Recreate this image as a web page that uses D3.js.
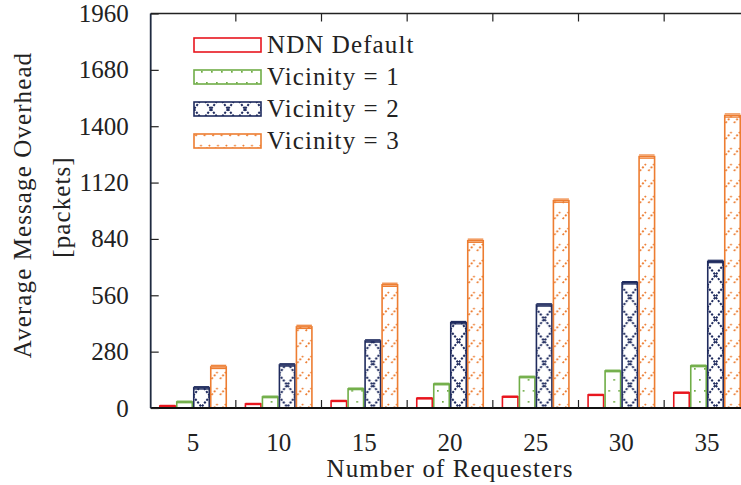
<!DOCTYPE html>
<html>
<head>
<meta charset="utf-8">
<script src="https://cdn.jsdelivr.net/npm/d3@7"></script>
<style>
  body { margin: 0; background: #fff; }
  text { font-family: "Liberation Serif", "DejaVu Serif", serif; fill: #222; }
  .words { letter-spacing: 1.1px; }
</style>
</head>
<body>
<div id="chart"></div>
<script>
// data
const requesters = ['5', '10', '15', '20', '25', '30', '35'];
const seriesNames = ['NDN Default', 'Vicinity = 1', 'Vicinity = 2', 'Vicinity = 3'];
const ndnDefault = [10, 20, 35, 48, 56, 65, 76];
const vicinity1 = [30, 55, 95, 119, 154, 184, 209];
const vicinity2 = [100, 214, 333, 424, 512, 622, 728];
const vicinity3 = [204, 403, 612, 831, 1030, 1249, 1453];
const errs = [3, 4, 6, 8];
const yTicks = [0, 280, 560, 840, 1120, 1400, 1680, 1960];

const colors = ['#e8161e', '#70ad47', '#1f2b5e', '#ed7d31'];
const allSeries = [ndnDefault, vicinity1, vicinity2, vicinity3];

const w = 741;
const h = 485;
const plotLeft = 150.7;
const plotTop = 13.5;
const plotBottom = 408;

const svg = d3.select('#chart')
  .append('svg')
  .attr('width', w)
  .attr('height', h);

// fill patterns, gnuplot style
const defs = svg.append('defs');

const p1 = defs.append('pattern').attr('id', 'pat1')
  .attr('patternUnits', 'userSpaceOnUse').attr('width', 10).attr('height', 22);
p1.append('rect').attr('width', 10).attr('height', 22).attr('fill', '#fff');
p1.append('rect').attr('x', 2).attr('y', 5).attr('width', 1.7).attr('height', 1.7).attr('fill', colors[1]);
p1.append('rect').attr('x', 7).attr('y', 16).attr('width', 1.7).attr('height', 1.7).attr('fill', colors[1]);

const p2 = defs.append('pattern').attr('id', 'pat2')
  .attr('patternUnits', 'userSpaceOnUse').attr('width', 17).attr('height', 22);
p2.append('rect').attr('width', 17).attr('height', 22).attr('fill', '#fff');
p2.append('path').attr('d', 'M0,0 L17,22 M17,0 L0,22')
  .attr('stroke', colors[2]).attr('stroke-width', 2)
  .attr('stroke-dasharray', '2.2 1.4').attr('fill', 'none');

const p3 = defs.append('pattern').attr('id', 'pat3')
  .attr('patternUnits', 'userSpaceOnUse').attr('width', 8.5).attr('height', 16);
p3.append('rect').attr('width', 8.5).attr('height', 16).attr('fill', '#fff');
p3.append('path').attr('d', 'M1.5,11 L7.5,4')
  .attr('stroke', colors[3]).attr('stroke-width', 1.8)
  .attr('stroke-dasharray', '2 1.8').attr('fill', 'none');

const fills = ['#fff', 'url(#pat1)', 'url(#pat2)', 'url(#pat3)'];

const xCenter = d3.scalePoint()
  .domain(requesters)
  .range([193, 707]);
const step = xCenter.step();

const xSeries = d3.scaleBand()
  .domain(seriesNames)
  .range([-34, 34]);

const yScale = d3.scaleLinear()
  .domain([0, 1960])
  .range([plotBottom, plotTop]);

// bars
const groups = svg.append('g').selectAll('g')
  .data(requesters)
  .enter()
  .append('g')
  .attr('transform', d => `translate(${xCenter(d)},0)`);

groups.each(function(cat, gi) {
  const g = d3.select(this);
  seriesNames.forEach((name, si) => {
    const v = allSeries[si][gi];
    const x = xSeries(name);
    const bw = xSeries.bandwidth();
    g.append('rect')
      .attr('x', x + 0.75)
      .attr('y', yScale(v))
      .attr('width', bw - 1.5)
      .attr('height', plotBottom - yScale(v))
      .attr('fill', fills[si])
      .attr('stroke', colors[si])
      .attr('stroke-width', 1.6);
    // error caps
    [v + errs[si], v - errs[si]].forEach(e => {
      g.append('line')
        .attr('x1', x + 0.75).attr('x2', x + bw - 0.75)
        .attr('y1', yScale(e)).attr('y2', yScale(e))
        .attr('stroke', colors[si]).attr('stroke-width', 1.2);
    });
  });
});

// border
svg.append('line')
  .attr('x1', plotLeft).attr('x2', w).attr('y1', plotTop).attr('y2', plotTop)
  .attr('stroke', '#222').attr('stroke-width', 1.6);
svg.append('line')
  .attr('x1', plotLeft).attr('x2', w).attr('y1', plotBottom).attr('y2', plotBottom)
  .attr('stroke', '#111').attr('stroke-width', 1.8);
svg.append('line')
  .attr('x1', plotLeft).attr('x2', plotLeft).attr('y1', plotTop).attr('y2', plotBottom)
  .attr('stroke', '#1f2a40').attr('stroke-width', 1.8);

// y axis
const yAxis = d3.axisLeft(yScale)
  .tickValues(yTicks)
  .tickFormat(d3.format('d'))
  .tickSize(-8)
  .tickPadding(22);

svg.append('g')
  .attr('transform', `translate(${plotLeft},0)`)
  .call(yAxis)
  .call(g => g.select('.domain').remove())
  .call(g => g.selectAll('line').attr('stroke', '#222').attr('stroke-width', 1.2))
  .call(g => g.selectAll('text')
    .style('font-family', '"Liberation Serif", serif')
    .style('font-size', '25px')
    .attr('fill', '#222'));

// x labels
svg.append('g').selectAll('text')
  .data(requesters)
  .enter()
  .append('text')
  .attr('x', d => xCenter(d))
  .attr('y', 451)
  .attr('text-anchor', 'middle')
  .style('font-size', '25px')
  .text(d => d);

// group separator ticks, bottom and top
const seps = requesters.slice(0, -1).map(d => xCenter(d) + step / 2);
svg.append('g').selectAll('line')
  .data(seps)
  .enter()
  .append('line')
  .attr('x1', d => d).attr('x2', d => d)
  .attr('y1', plotBottom).attr('y2', plotBottom - 8)
  .attr('stroke', '#222').attr('stroke-width', 1.2);
svg.append('g').selectAll('line')
  .data(seps)
  .enter()
  .append('line')
  .attr('x1', d => d).attr('x2', d => d)
  .attr('y1', plotTop).attr('y2', plotTop + 8)
  .attr('stroke', '#222').attr('stroke-width', 1.2);

// axis titles
svg.append('text')
  .attr('class', 'words')
  .attr('x', 450)
  .attr('y', 477)
  .attr('text-anchor', 'middle')
  .style('font-size', '25px')
  .text('Number of Requesters');

svg.append('text')
  .attr('class', 'words')
  .attr('transform', 'translate(31,205) rotate(-90)')
  .attr('text-anchor', 'middle')
  .style('font-size', '25px')
  .text('Average Message Overhead');

svg.append('text')
  .attr('class', 'words')
  .attr('transform', 'translate(70,207) rotate(-90)')
  .attr('text-anchor', 'middle')
  .style('font-size', '25px')
  .text('[packets]');

// legend
const legend = svg.append('g')
  .selectAll('g')
  .data(seriesNames)
  .enter()
  .append('g')
  .attr('transform', (d, i) => `translate(194,${45 + i * 32})`);

legend.append('rect')
  .attr('x', 0)
  .attr('y', -7)
  .attr('width', 67)
  .attr('height', 14)
  .attr('fill', (d, i) => fills[i])
  .attr('stroke', (d, i) => colors[i])
  .attr('stroke-width', 1.6);

legend.append('text')
  .attr('class', 'words')
  .attr('x', 73)
  .attr('y', 8)
  .style('font-size', '25px')
  .text(d => d);
</script>
</body>
</html>
